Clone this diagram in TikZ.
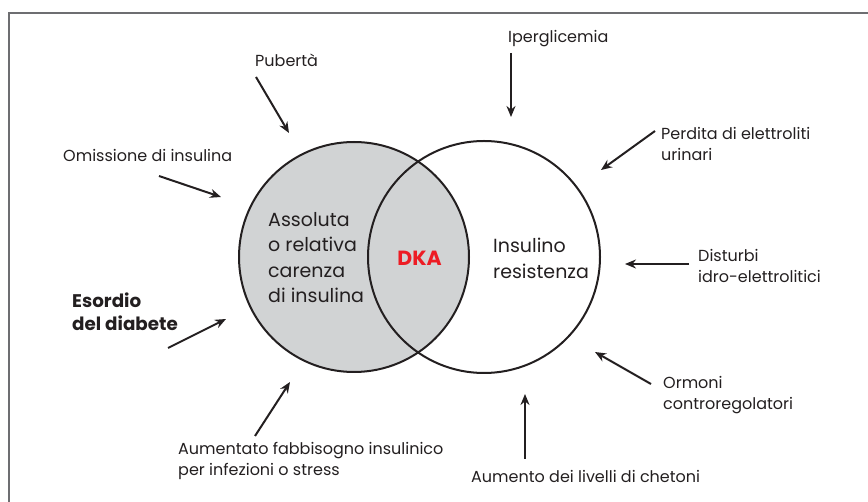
\documentclass[tikz,border=0pt]{standalone}
\usepackage{fontspec}
\setmainfont{Poppins}
\usepackage{tikz}
\usetikzlibrary{arrows.meta}

\definecolor{ink}{HTML}{231F20}
\definecolor{venngray}{HTML}{D1D3D4}
\definecolor{dkared}{HTML}{ED1C24}
\definecolor{framegray}{HTML}{6D6E71}

\begin{document}
\begin{tikzpicture}[x=1pt, y=-1pt,
  cause/.style={font=\fontsize{16}{21.5}\selectfont, align=left, inner sep=0pt, anchor=north west, text=ink},
  inside/.style={font=\fontsize{19}{25.5}\selectfont, align=left, inner sep=0pt, anchor=north west, text=ink},
  arr/.style={-{Stealth[length=11pt,width=9pt]}, line width=2pt, draw=ink},
  set/.style={draw=ink, circle, line width=2pt}]
  \useasboundingbox (0,0) rectangle (868,502);
  \draw[framegray, line width=1.3pt] (9,502) -- (9,13) -- (868,13);

  \node (lc) [set, fill=venngray, minimum size=230pt] at (354,257) {};
  \node (rc) [set, minimum size=232pt] at (484,257) {};

  \node (ass) [inside] at (268,212) {Assoluta\\o relativa\\carenza\\di insulina};
  \node (ins) [inside] at (493,238) {Insulino\\resistenza};
  \node (dka) [font=\fontsize{20.5}{24}\bfseries, text=dkared] at (419.5,258) {DKA};

  \node (pub) [cause] at (255,54) {Pubertà};
  \node (omi) [cause] at (63,149) {Omissione di insulina};
  \node (eso) [cause, font=\fontsize{18.3}{22.5}\bfseries] at (72,293) {Esordio\\del diabete};
  \node (fab) [cause] at (178,442) {Aumentato fabbisogno insulinico\\per infezioni o stress};
  \node (ipe) [cause] at (508,30) {Iperglicemia};
  \node (per) [cause] at (661,127) {Perdita di elettroliti\\urinari};
  \node (dis) [cause] at (698,249) {Disturbi\\idro-elettrolitici};
  \node (orm) [cause] at (663,376) {Ormoni\\controregolatori};
  \node (che) [cause] at (471,470) {Aumento dei livelli di chetoni};

  \coordinate (pub1) at (256,77);  \coordinate (pub2) at (289,133);
  \coordinate (omi1) at (159,176); \coordinate (omi2) at (221,197);
  \coordinate (eso1) at (168,348); \coordinate (eso2) at (226,319);
  \coordinate (fab1) at (255,436); \coordinate (fab2) at (290,382);
  \coordinate (ipe1) at (511,53);  \coordinate (ipe2) at (511,117);
  \coordinate (per1) at (655,131); \coordinate (per2) at (601,170);
  \coordinate (dis1) at (689,264); \coordinate (dis2) at (625,264);
  \coordinate (orm1) at (651,384); \coordinate (orm2) at (595,352);
  \coordinate (che1) at (525,459); \coordinate (che2) at (525,394);

  \draw[arr] (pub1) to (pub2);
  \draw[arr] (omi1) to (omi2);
  \draw[arr] (eso1) to (eso2);
  \draw[arr] (fab1) to (fab2);
  \draw[arr] (ipe1) to (ipe2);
  \draw[arr] (per1) to (per2);
  \draw[arr] (dis1) to (dis2);
  \draw[arr] (orm1) to (orm2);
  \draw[arr] (che1) to (che2);
\end{tikzpicture}
\end{document}
